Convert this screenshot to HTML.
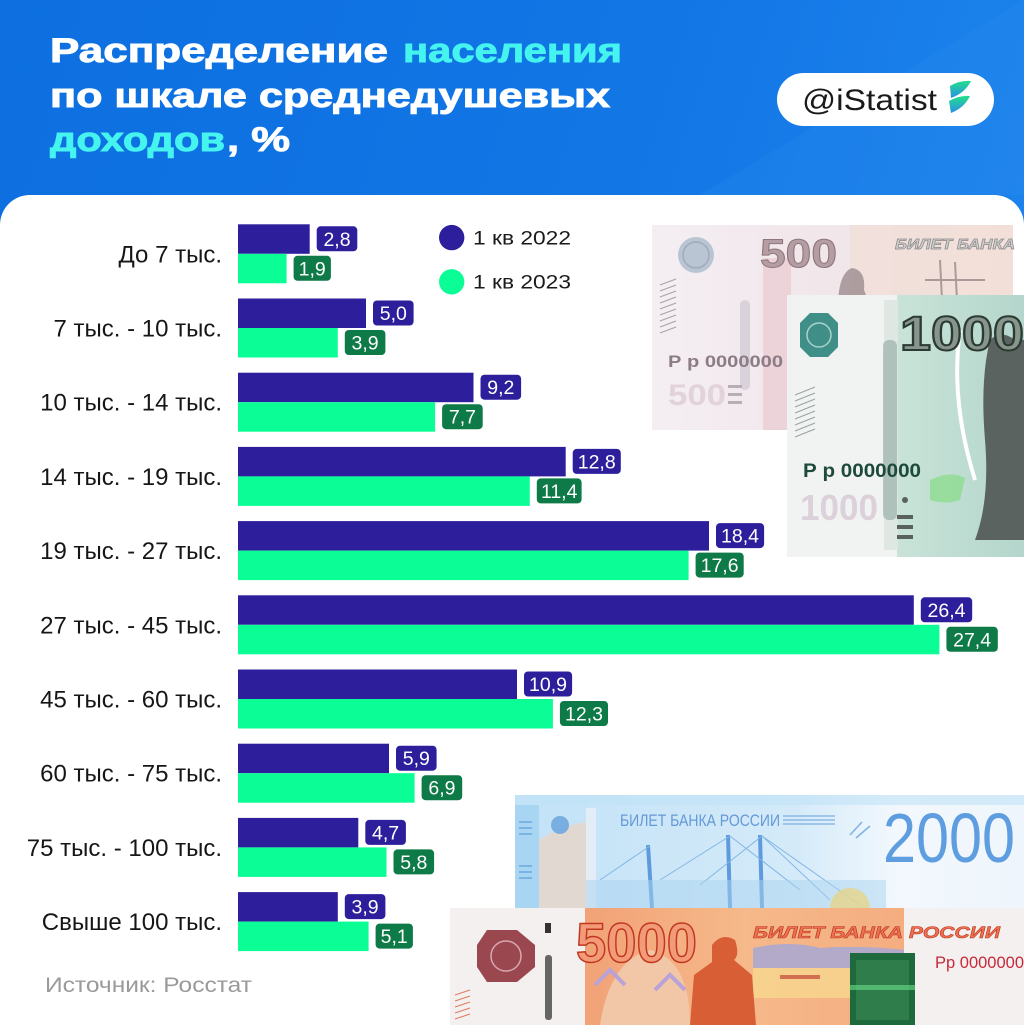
<!DOCTYPE html>
<html>
<head>
<meta charset="utf-8">
<style>
html,body{margin:0;padding:0;background:#fff;}
body{width:1024px;height:1025px;overflow:hidden;}
svg{display:block;}
text{font-family:"Liberation Sans","Noto Sans CJK SC",sans-serif;}
.cat{font-size:24px;fill:#161616;text-anchor:end;}
.bv{font-size:19.5px;fill:#fff;text-anchor:middle;}
.tt{font-size:34px;font-weight:bold;stroke-width:0.9;}
</style>
</head>
<body>
<svg width="1024" height="1025" viewBox="0 0 1024 1025" xmlns="http://www.w3.org/2000/svg">
<defs>
<linearGradient id="hdr" x1="0" y1="0" x2="1" y2="0.3">
<stop offset="0" stop-color="#0d6fe0"/>
<stop offset="0.6" stop-color="#1276e5"/>
<stop offset="1" stop-color="#1d84ec"/>
</linearGradient>
<linearGradient id="leaf" x1="0" y1="0" x2="0" y2="1">
<stop offset="0" stop-color="#22e08a"/>
<stop offset="1" stop-color="#2a8fe6"/>
</linearGradient>
<linearGradient id="n500" x1="0" y1="0" x2="1" y2="0">
<stop offset="0" stop-color="#f4eef3"/>
<stop offset="0.5" stop-color="#f1e6ea"/>
<stop offset="1" stop-color="#f3e3dd"/>
</linearGradient>
<linearGradient id="n1000" x1="0" y1="0" x2="1" y2="0">
<stop offset="0" stop-color="#c9e3d8"/>
<stop offset="1" stop-color="#b4d6cc"/>
</linearGradient>
<linearGradient id="n2000" x1="0" y1="0" x2="1" y2="0">
<stop offset="0" stop-color="#c2e2f7"/>
<stop offset="0.55" stop-color="#d4eaf9"/>
<stop offset="0.75" stop-color="#f2f8fd"/>
<stop offset="1" stop-color="#eef5fc"/>
</linearGradient>
<linearGradient id="n5000" x1="0" y1="0" x2="1" y2="0">
<stop offset="0" stop-color="#f2a277"/>
<stop offset="0.5" stop-color="#f6b98a"/>
<stop offset="1" stop-color="#f4ad80"/>
</linearGradient>
</defs>

<!-- header -->
<rect x="0" y="0" width="1024" height="1025" fill="url(#hdr)"/>
<polygon points="700,195 1024,0 1024,195" fill="#2a8cf0" opacity="0.25"/>

<text class="tt" x="50" y="62" fill="#ffffff" stroke="#ffffff" textLength="338" lengthAdjust="spacingAndGlyphs">Распределение</text>
<text class="tt" x="403" y="62" fill="#45f4ef" stroke="#45f4ef" textLength="219" lengthAdjust="spacingAndGlyphs">населения</text>
<text class="tt" x="50" y="107" fill="#ffffff" stroke="#ffffff" textLength="560" lengthAdjust="spacingAndGlyphs">по шкале среднедушевых</text>
<text class="tt" x="50" y="151" fill="#45f4ef" stroke="#45f4ef" textLength="175" lengthAdjust="spacingAndGlyphs">доходов</text>
<text class="tt" x="227" y="151" fill="#ffffff" stroke="#ffffff" textLength="63" lengthAdjust="spacingAndGlyphs">, %</text>

<!-- pill -->
<rect x="777" y="73" width="217" height="53" rx="26.5" fill="#ffffff"/>
<text x="802" y="110" font-size="30" fill="#1a1a1a" textLength="135" lengthAdjust="spacingAndGlyphs">@iStatist</text>
<path d="M950,86 Q960,80 971,81 Q965,93 951,98 Z" fill="url(#leaf)"/>
<path d="M949,101 Q960,95 970,96 Q964,108 951,113 Z" fill="url(#leaf)"/>

<!-- white card -->
<path d="M0,225 A30,30 0 0 1 30,195 L994,195 A30,30 0 0 1 1024,225 L1024,1025 L0,1025 Z" fill="#ffffff"/>

<!-- 500 note -->
<g>
<rect x="652" y="225" width="361" height="205" fill="url(#n500)"/>
<rect x="850" y="225" width="163" height="70" fill="#f1ded6" opacity="0.7"/>
<rect x="763" y="258" width="28" height="172" fill="#e9cdd3" opacity="0.8"/>
<circle cx="696" cy="255" r="18" fill="#b9c5d2"/>
<circle cx="696" cy="255" r="13" fill="none" stroke="#9eabba" stroke-width="1.5"/>
<text x="760" y="267" font-size="40" font-weight="bold" fill="#b49ea4" stroke="#8f767d" stroke-width="1" textLength="77" lengthAdjust="spacingAndGlyphs">500</text>
<text x="895" y="249" font-size="15" font-weight="bold" font-style="italic" fill="#cfcfcf" stroke="#8a8a8a" stroke-width="0.7" textLength="120" lengthAdjust="spacingAndGlyphs">БИЛЕТ БАНКА</text>
<path d="M838,300 Q840,272 852,268 Q866,270 864,290 L880,330 L840,330 Z" fill="#9d8c8e" opacity="0.8"/>
<path d="M940,260 L942,300 M955,262 L957,300 M925,280 L985,280" stroke="#aa9a9a" stroke-width="2" fill="none"/>
<g stroke="#a8a0a8" stroke-width="1">
<line x1="660" y1="285" x2="676" y2="279"/><line x1="660" y1="291" x2="676" y2="285"/><line x1="660" y1="297" x2="676" y2="291"/>
<line x1="660" y1="303" x2="676" y2="297"/><line x1="660" y1="309" x2="676" y2="303"/><line x1="660" y1="315" x2="676" y2="309"/>
<line x1="660" y1="321" x2="676" y2="315"/><line x1="660" y1="327" x2="676" y2="321"/><line x1="660" y1="333" x2="676" y2="327"/>
</g>
<rect x="740" y="300" width="10" height="90" rx="5" fill="#d9d2da"/>
<text x="668" y="367" font-size="17" font-family="Liberation Serif,serif" font-weight="bold" fill="#8c7c84" textLength="115" lengthAdjust="spacingAndGlyphs">Р р 0000000</text>
<text x="668" y="405" font-size="30" font-weight="bold" fill="#e2d2da" textLength="58" lengthAdjust="spacingAndGlyphs">500</text>
<g fill="#b7aeb6"><rect x="728" y="385" width="14" height="3"/><rect x="728" y="393" width="14" height="3"/><rect x="728" y="401" width="14" height="3"/></g>
</g>

<!-- 1000 note -->
<g>
<rect x="787" y="295" width="237" height="262" fill="#f0f3f1"/>
<rect x="897" y="295" width="127" height="262" fill="url(#n1000)"/>
<rect x="884" y="300" width="14" height="250" fill="#dfe7e3"/>
<path d="M810,313 L828,313 L838,323 L838,347 L828,357 L810,357 L800,347 L800,323 Z" fill="#3f8e88"/>
<circle cx="819" cy="335" r="12" fill="none" stroke="#a8d2cc" stroke-width="1.5"/>
<rect x="883" y="340" width="14" height="180" rx="6" fill="#8fa8a0" opacity="0.6"/>
<path d="M990,340 Q1000,330 1012,338 L1024,340 L1024,540 L975,540 Q990,500 985,440 Q980,380 990,340 Z" fill="#5b6360"/>
<path d="M960,330 Q950,400 975,480" stroke="#ffffff" stroke-width="4" fill="none"/>
<text x="900" y="350" font-size="48" font-weight="bold" fill="#87958c" stroke="#2b3a32" stroke-width="2" textLength="124" lengthAdjust="spacingAndGlyphs">1000</text>
<g stroke="#9aa49e" stroke-width="1">
<line x1="795" y1="395" x2="815" y2="387"/><line x1="795" y1="401" x2="815" y2="393"/><line x1="795" y1="407" x2="815" y2="399"/>
<line x1="795" y1="413" x2="815" y2="405"/><line x1="795" y1="419" x2="815" y2="411"/><line x1="795" y1="425" x2="815" y2="417"/>
<line x1="795" y1="431" x2="815" y2="423"/><line x1="795" y1="437" x2="815" y2="429"/>
</g>
<path d="M930,480 Q950,470 965,478 L960,500 Q945,505 930,500 Z" fill="#8fdc90" opacity="0.8"/>
<text x="803" y="477" font-size="19" font-family="Liberation Serif,serif" font-weight="bold" fill="#1e4a3c" textLength="118" lengthAdjust="spacingAndGlyphs">Р р 0000000</text>
<text x="800" y="520" font-size="36" font-weight="bold" fill="#dcd0da" textLength="78" lengthAdjust="spacingAndGlyphs">1000</text>
<g fill="#5a625e"><rect x="897" y="515" width="16" height="4"/><rect x="897" y="525" width="16" height="4"/><rect x="897" y="535" width="16" height="4"/></g>
<circle cx="905" cy="500" r="3" fill="#5a625e"/>
</g>

<!-- 2000 note -->
<g>
<rect x="515" y="795" width="509" height="113" fill="url(#n2000)"/>
<rect x="515" y="795" width="509" height="10" fill="#bfe2f7" opacity="0.6"/>
<rect x="515" y="805" width="24" height="103" fill="#a8d6f2"/>
<path d="M539,840 Q560,826 586,822 L586,908 L539,908 Z" fill="#e2d8d2"/>
<rect x="586" y="808" width="10" height="100" fill="#e3edf5"/>
<circle cx="560" cy="825" r="9" fill="#7aaee0"/>
<g stroke="#7ab4e4" stroke-width="2"><line x1="519" y1="822" x2="532" y2="822"/><line x1="519" y1="828" x2="532" y2="828"/><line x1="519" y1="834" x2="532" y2="834"/><line x1="519" y1="866" x2="532" y2="866"/><line x1="519" y1="872" x2="532" y2="872"/><line x1="519" y1="878" x2="532" y2="878"/></g>
<text x="620" y="826" font-size="16.5" fill="#6499d6" textLength="160" lengthAdjust="spacingAndGlyphs">БИЛЕТ БАНКА РОССИИ</text>
<g stroke="#8bb8e6" stroke-width="1.5"><line x1="783" y1="816" x2="835" y2="816"/><line x1="783" y1="820" x2="835" y2="820"/><line x1="783" y1="824" x2="835" y2="824"/></g>
<g stroke="#5e9bdc" stroke-width="4"><line x1="728" y1="835" x2="730" y2="908"/><line x1="760" y1="835" x2="762" y2="908"/><line x1="648" y1="845" x2="652" y2="908"/></g>
<g stroke="#82b6e6" stroke-width="1"><line x1="730" y1="836" x2="660" y2="880"/><line x1="730" y1="836" x2="800" y2="890"/><line x1="762" y1="836" x2="830" y2="900"/><line x1="762" y1="836" x2="700" y2="885"/><line x1="762" y1="836" x2="860" y2="905"/><line x1="650" y1="846" x2="600" y2="880"/></g>
<rect x="586" y="880" width="300" height="28" fill="#a9d3f0" opacity="0.5"/>
<path d="M830,908 A20,20 0 0 1 870,908 Z" fill="#e6d48a" opacity="0.8"/>
<path d="M850,835 L862,822 M856,838 L870,826" stroke="#7fb2e2" stroke-width="1.5"/>
<text x="883" y="862" font-size="70" fill="#5e9ee0" textLength="132" lengthAdjust="spacingAndGlyphs">2000</text>
</g>

<!-- 5000 note -->
<g>
<rect x="450" y="908" width="574" height="117" fill="#f3f0ef"/>
<rect x="585" y="908" width="319" height="117" fill="url(#n5000)"/>
<path d="M600,1025 Q610,960 650,950 Q690,960 690,1025 Z" fill="#f2c7a8"/>
<g stroke="#b9a2d6" stroke-width="4" fill="none"><path d="M595,985 L610,970 L625,985"/><path d="M655,990 L670,975 L685,990"/></g>
<path d="M753,948 Q790,940 820,948 Q860,945 904,950 L904,968 L753,968 Z" fill="#b3a9c9"/>
<rect x="753" y="968" width="151" height="30" fill="#f7d790" opacity="0.8"/>
<rect x="780" y="975" width="40" height="4" fill="#d07050"/>
<path d="M712,945 Q722,932 735,940 Q740,955 734,960 L752,975 L756,1025 L690,1025 L694,975 L712,962 Z" fill="#d85f35"/>
<path d="M487,930 L517,930 L535,945 L535,967 L517,982 L487,982 L477,967 L477,945 Z" fill="#9a4750"/>
<circle cx="506" cy="956" r="15" fill="none" stroke="#d8a8ae" stroke-width="1.5"/>
<rect x="545" y="923" width="6" height="10" fill="#333"/>
<rect x="545" y="955" width="7" height="65" rx="3" fill="#444" opacity="0.8"/>
<g stroke="#e07a60" stroke-width="1"><line x1="455" y1="995" x2="470" y2="990"/><line x1="455" y1="1001" x2="470" y2="996"/><line x1="455" y1="1007" x2="470" y2="1002"/><line x1="455" y1="1013" x2="470" y2="1008"/><line x1="455" y1="1019" x2="470" y2="1014"/></g>
<text x="576" y="962" font-size="56" font-weight="bold" fill="#f39a78" stroke="#c0381f" stroke-width="1.5" textLength="121" lengthAdjust="spacingAndGlyphs">5000</text>
<text x="753" y="938" font-size="17" font-weight="bold" font-style="italic" fill="#f07050" stroke="#b83a22" stroke-width="0.6" textLength="247" lengthAdjust="spacingAndGlyphs">БИЛЕТ БАНКА РОССИИ</text>
<rect x="850" y="953" width="65" height="72" fill="#1f6a3c"/>
<rect x="856" y="960" width="53" height="60" fill="#3a8a55" opacity="0.6"/>
<rect x="850" y="985" width="65" height="5" fill="#6be08a" opacity="0.6"/>
<text x="935" y="968" font-size="17" fill="#c8283a" textLength="89" lengthAdjust="spacingAndGlyphs">Рр 0000000</text>
</g>

<!-- legend -->
<circle cx="451.7" cy="237.6" r="12.7" fill="#2d1f9c"/>
<circle cx="451.7" cy="281.8" r="12.7" fill="#0afe95"/>
<text x="473" y="244.5" font-size="19" fill="#1a1a1a" textLength="98" lengthAdjust="spacingAndGlyphs">1 кв 2022</text>
<text x="473" y="288.7" font-size="19" fill="#1a1a1a" textLength="98" lengthAdjust="spacingAndGlyphs">1 кв 2023</text>

<!-- bars -->
<g>
<rect x="238" y="224.3" width="71.7" height="29.5" fill="#2d1f9c"/>
<rect x="238" y="253.8" width="48.6" height="29.5" fill="#0afe95"/>
<text class="cat" x="222" y="262.3">До 7 тыс.</text>
<rect x="316.7" y="226.3" width="40.6" height="25" rx="4" fill="#2d1f9c"/>
<text class="bv" x="337" y="245.8">2,8</text>
<rect x="293.6" y="255.8" width="37.3" height="25" rx="4" fill="#0e7a47"/>
<text class="bv" x="312.2" y="275.3">1,9</text>

<rect x="238" y="298.5" width="128" height="29.5" fill="#2d1f9c"/>
<rect x="238" y="328" width="99.8" height="29.5" fill="#0afe95"/>
<text class="cat" x="222" y="336.5">7 тыс. - 10 тыс.</text>
<rect x="373" y="300.5" width="40.6" height="25" rx="4" fill="#2d1f9c"/>
<text class="bv" x="393.3" y="320">5,0</text>
<rect x="344.8" y="330" width="40.6" height="25" rx="4" fill="#0e7a47"/>
<text class="bv" x="365.1" y="349.5">3,9</text>

<rect x="238" y="372.7" width="235.5" height="29.5" fill="#2d1f9c"/>
<rect x="238" y="402.2" width="197.1" height="29.5" fill="#0afe95"/>
<text class="cat" x="222" y="410.7">10 тыс. - 14 тыс.</text>
<rect x="480.5" y="374.7" width="40.6" height="25" rx="4" fill="#2d1f9c"/>
<text class="bv" x="500.8" y="394.2">9,2</text>
<rect x="442.1" y="404.2" width="40.6" height="25" rx="4" fill="#0e7a47"/>
<text class="bv" x="462.4" y="423.7">7,7</text>

<rect x="238" y="446.9" width="327.7" height="29.5" fill="#2d1f9c"/>
<rect x="238" y="476.4" width="291.8" height="29.5" fill="#0afe95"/>
<text class="cat" x="222" y="484.9">14 тыс. - 19 тыс.</text>
<rect x="572.7" y="448.9" width="48.1" height="25" rx="4" fill="#2d1f9c"/>
<text class="bv" x="596.7" y="468.4">12,8</text>
<rect x="536.8" y="478.4" width="44.8" height="25" rx="4" fill="#0e7a47"/>
<text class="bv" x="559.2" y="497.9">11,4</text>

<rect x="238" y="521.1" width="471" height="29.5" fill="#2d1f9c"/>
<rect x="238" y="550.6" width="450.6" height="29.5" fill="#0afe95"/>
<text class="cat" x="222" y="559.1">19 тыс. - 27 тыс.</text>
<rect x="716" y="523.1" width="48.1" height="25" rx="4" fill="#2d1f9c"/>
<text class="bv" x="740" y="542.6">18,4</text>
<rect x="695.6" y="552.6" width="48.1" height="25" rx="4" fill="#0e7a47"/>
<text class="bv" x="719.6" y="572.1">17,6</text>

<rect x="238" y="595.3" width="675.8" height="29.5" fill="#2d1f9c"/>
<rect x="238" y="624.8" width="701.4" height="29.5" fill="#0afe95"/>
<text class="cat" x="222" y="633.3">27 тыс. - 45 тыс.</text>
<rect x="920.8" y="597.3" width="51.4" height="25" rx="4" fill="#2d1f9c"/>
<text class="bv" x="946.5" y="616.8">26,4</text>
<rect x="946.4" y="626.8" width="51.4" height="25" rx="4" fill="#0e7a47"/>
<text class="bv" x="972.1" y="646.3">27,4</text>

<rect x="238" y="669.5" width="279" height="29.5" fill="#2d1f9c"/>
<rect x="238" y="699" width="314.9" height="29.5" fill="#0afe95"/>
<text class="cat" x="222" y="707.5">45 тыс. - 60 тыс.</text>
<rect x="524" y="671.5" width="48.1" height="25" rx="4" fill="#2d1f9c"/>
<text class="bv" x="548" y="691">10,9</text>
<rect x="559.9" y="701" width="48.1" height="25" rx="4" fill="#0e7a47"/>
<text class="bv" x="584" y="720.5">12,3</text>

<rect x="238" y="743.7" width="151" height="29.5" fill="#2d1f9c"/>
<rect x="238" y="773.2" width="176.6" height="29.5" fill="#0afe95"/>
<text class="cat" x="222" y="781.7">60 тыс. - 75 тыс.</text>
<rect x="396" y="745.7" width="40.6" height="25" rx="4" fill="#2d1f9c"/>
<text class="bv" x="416.3" y="765.2">5,9</text>
<rect x="421.6" y="775.2" width="40.6" height="25" rx="4" fill="#0e7a47"/>
<text class="bv" x="441.9" y="794.7">6,9</text>

<rect x="238" y="817.9" width="120.3" height="29.5" fill="#2d1f9c"/>
<rect x="238" y="847.4" width="148.5" height="29.5" fill="#0afe95"/>
<text class="cat" x="222" y="855.9">75 тыс. - 100 тыс.</text>
<rect x="365.3" y="819.9" width="40.6" height="25" rx="4" fill="#2d1f9c"/>
<text class="bv" x="385.6" y="839.4">4,7</text>
<rect x="393.5" y="849.4" width="40.6" height="25" rx="4" fill="#0e7a47"/>
<text class="bv" x="413.8" y="868.9">5,8</text>

<rect x="238" y="892.1" width="99.8" height="29.5" fill="#2d1f9c"/>
<rect x="238" y="921.6" width="130.6" height="29.5" fill="#0afe95"/>
<text class="cat" x="222" y="930.1">Свыше 100 тыс.</text>
<rect x="344.8" y="894.1" width="40.6" height="25" rx="4" fill="#2d1f9c"/>
<text class="bv" x="365.1" y="913.6">3,9</text>
<rect x="375.6" y="923.6" width="37.3" height="25" rx="4" fill="#0e7a47"/>
<text class="bv" x="394.2" y="943.1">5,1</text>
</g>

<!-- source -->
<text x="45" y="992" font-size="21" fill="#9a9a9a" textLength="207" lengthAdjust="spacingAndGlyphs">Источник: Росстат</text>
</svg>
</body>
</html>
